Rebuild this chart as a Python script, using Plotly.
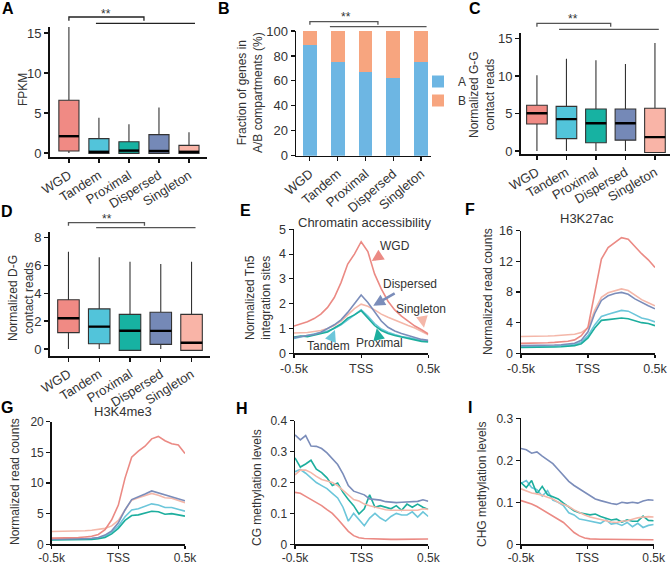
import plotly.graph_objects as go

W, H = 671, 564
FONT = "Liberation Sans, Arial, Helvetica, sans-serif"
INK = "#333333"

# ---------------- data ----------------
CATS = ["WGD", "Tandem", "Proximal", "Dispersed", "Singleton"]
POS = [0, 1, 2, 3, 4]

# Panel A: FPKM boxes
A_low = [0.0, -0.05, -0.05, -0.05, -0.05]
A_q1 = [0.25, -0.05, -0.05, -0.05, -0.05]
A_med = [2.1, 0.15, 0.3, 0.25, 0.15]
A_q3 = [6.6, 1.8, 1.4, 2.3, 0.95]
A_high = [15.9, 4.4, 3.6, 5.7, 2.6]

# Panel B: fraction in A/B compartments (%)
B_A = [88.5, 75.0, 67.0, 62.5, 75.0]
B_B = [11.5, 25.0, 33.0, 37.5, 25.0]

# Panel C: normalized G-G contact reads
C_low = [0.0, 0.0, 0.0, 0.0, -0.2]
C_q1 = [3.6, 1.65, 1.1, 1.45, -0.2]
C_med = [5.03, 4.25, 3.7, 3.7, 1.85]
C_q3 = [6.1, 5.95, 5.6, 5.6, 5.7]
C_high = [10.1, 12.3, 12.1, 11.6, 14.4]

# Panel D: normalized D-G contact reads
D_low = [0.0, 0.0, -0.1, 0.0, -0.1]
D_q1 = [1.17, 0.38, -0.1, 0.33, -0.1]
D_med = [2.2, 1.6, 1.31, 1.3, 0.45]
D_q3 = [3.53, 2.87, 2.48, 2.63, 2.48]
D_high = [6.97, 6.57, 6.25, 6.09, 6.25]

# Profiles around TSS (kb)
X21 = [-0.5, -0.45, -0.4, -0.35, -0.3, -0.25, -0.2, -0.15, -0.1, -0.05, 0.0,
       0.05, 0.1, 0.15, 0.2, 0.25, 0.3, 0.35, 0.4, 0.45, 0.5]
X26 = [-0.5, -0.46, -0.42, -0.38, -0.34, -0.3, -0.26, -0.22, -0.18, -0.14, -0.1, -0.06, -0.02,
       0.02, 0.06, 0.1, 0.14, 0.18, 0.22, 0.26, 0.3, 0.34, 0.38, 0.42, 0.46, 0.5]

E_WGD = [1.10, 1.17, 1.27, 1.40, 1.58, 1.85, 2.25, 2.85, 3.60, 4.00, 4.50, 4.10, 3.20, 2.60, 2.10, 1.75, 1.50, 1.30, 1.10, 0.95, 0.78]
E_Dispersed = [0.63, 0.66, 0.72, 0.76, 0.85, 1.00, 1.15, 1.35, 1.65, 2.00, 2.35, 2.05, 1.65, 1.30, 1.05, 0.90, 0.80, 0.72, 0.65, 0.56, 0.52]
E_Singleton = [0.82, 0.82, 0.84, 0.88, 0.92, 1.00, 1.12, 1.30, 1.55, 1.80, 1.98, 1.90, 1.75, 1.58, 1.45, 1.33, 1.22, 1.12, 1.02, 0.90, 0.75]
E_Tandem = [0.60, 0.66, 0.70, 0.76, 0.82, 0.90, 1.00, 1.15, 1.35, 1.55, 1.75, 1.50, 1.20, 0.98, 0.85, 0.76, 0.68, 0.64, 0.58, 0.52, 0.50]
E_Proximal = [0.65, 0.70, 0.67, 0.74, 0.80, 0.86, 1.02, 1.18, 1.42, 1.55, 1.72, 1.42, 1.12, 0.92, 0.80, 0.72, 0.66, 0.60, 0.54, 0.48, 0.46]

F_WGD = [1.30, 1.30, 1.33, 1.35, 1.38, 1.42, 1.48, 1.58, 1.75, 2.30, 3.40, 8.00, 12.30, 13.80, 14.50, 15.10, 14.90, 13.90, 13.00, 12.20, 11.20]
F_Singleton = [2.20, 2.20, 2.22, 2.24, 2.26, 2.30, 2.34, 2.40, 2.48, 2.70, 3.30, 5.60, 7.30, 7.90, 8.20, 8.40, 8.20, 7.60, 7.00, 6.60, 6.20]
F_Dispersed = [1.00, 1.00, 1.02, 1.04, 1.06, 1.08, 1.12, 1.18, 1.30, 1.70, 2.80, 5.20, 6.90, 7.50, 7.80, 7.95, 7.70, 7.10, 6.60, 6.20, 5.80]
F_Tandem = [0.90, 0.90, 0.92, 0.92, 0.94, 0.96, 1.00, 1.05, 1.15, 1.45, 2.30, 3.70, 4.80, 5.10, 5.40, 5.60, 5.50, 5.00, 4.60, 4.40, 4.10]
F_Proximal = [0.75, 0.75, 0.76, 0.78, 0.80, 0.82, 0.85, 0.90, 1.00, 1.25, 2.00, 3.30, 4.30, 4.40, 4.50, 4.60, 4.50, 4.20, 4.00, 3.90, 3.60]

G_WGD = [1.00, 1.00, 1.00, 1.05, 1.10, 1.20, 1.30, 1.60, 2.40, 4.00, 6.40, 10.80, 14.20, 15.20, 16.00, 17.20, 17.60, 16.90, 16.40, 16.20, 14.80]
G_Singleton = [2.10, 2.10, 2.12, 2.15, 2.18, 2.22, 2.28, 2.40, 2.60, 3.00, 3.90, 5.60, 7.20, 7.60, 8.00, 8.30, 8.00, 7.60, 7.50, 7.10, 6.80]
G_Dispersed = [0.85, 0.85, 0.86, 0.88, 0.90, 0.92, 0.98, 1.10, 1.50, 2.20, 3.50, 5.60, 7.30, 7.70, 8.20, 8.70, 8.40, 8.00, 7.80, 7.50, 7.10]
G_Tandem = [0.80, 0.80, 0.81, 0.82, 0.84, 0.86, 0.90, 1.00, 1.30, 2.00, 3.00, 4.50, 5.60, 5.80, 6.20, 6.60, 6.40, 6.00, 6.00, 5.70, 5.40]
G_Proximal = [0.70, 0.70, 0.71, 0.72, 0.74, 0.76, 0.80, 0.90, 1.10, 1.70, 2.60, 3.90, 4.70, 4.80, 5.10, 5.40, 5.30, 4.90, 5.00, 4.80, 4.60]

H_WGD = [0.168, 0.165, 0.155, 0.145, 0.135, 0.125, 0.112, 0.100, 0.082, 0.062, 0.042, 0.028, 0.021,
         0.019, 0.018, 0.017, 0.017, 0.016, 0.016, 0.016, 0.016, 0.017, 0.017, 0.017, 0.018, 0.017]
H_Dispersed = [0.354, 0.338, 0.352, 0.318, 0.317, 0.310, 0.296, 0.278, 0.258, 0.228, 0.190, 0.172, 0.166,
               0.160, 0.147, 0.145, 0.143, 0.138, 0.136, 0.135, 0.136, 0.137, 0.138, 0.139, 0.144, 0.139]
H_Proximal = [0.280, 0.250, 0.260, 0.272, 0.243, 0.232, 0.215, 0.190, 0.198, 0.168, 0.145, 0.125, 0.098,
              0.115, 0.160, 0.120, 0.125, 0.120, 0.115, 0.125, 0.110, 0.130, 0.120, 0.130, 0.120, 0.113]
H_Singleton = [0.225, 0.240, 0.240, 0.232, 0.220, 0.210, 0.205, 0.200, 0.190, 0.175, 0.160, 0.145, 0.140,
               0.130, 0.125, 0.120, 0.115, 0.112, 0.110, 0.110, 0.110, 0.110, 0.108, 0.110, 0.115, 0.113]
H_Tandem = [0.235, 0.242, 0.230, 0.215, 0.200, 0.190, 0.180, 0.165, 0.150, 0.120, 0.075, 0.100, 0.080,
            0.060, 0.085, 0.100, 0.085, 0.075, 0.090, 0.100, 0.095, 0.095, 0.105, 0.088, 0.105, 0.090]

I_WGD = [0.104, 0.100, 0.096, 0.090, 0.082, 0.075, 0.068, 0.060, 0.052, 0.040, 0.028, 0.020, 0.015,
         0.013, 0.012, 0.012, 0.012, 0.012, 0.011, 0.011, 0.011, 0.011, 0.011, 0.011, 0.011, 0.011]
I_Dispersed = [0.228, 0.225, 0.217, 0.220, 0.210, 0.202, 0.192, 0.178, 0.163, 0.150, 0.140, 0.132, 0.125,
               0.117, 0.108, 0.104, 0.100, 0.097, 0.095, 0.100, 0.098, 0.100, 0.098, 0.103, 0.106, 0.105]
I_Proximal = [0.147, 0.135, 0.152, 0.120, 0.138, 0.118, 0.113, 0.108, 0.098, 0.088, 0.080, 0.075, 0.072,
              0.070, 0.072, 0.066, 0.062, 0.058, 0.060, 0.053, 0.058, 0.055, 0.055, 0.067, 0.057, 0.056]
I_Tandem = [0.145, 0.152, 0.135, 0.130, 0.115, 0.128, 0.105, 0.100, 0.092, 0.075, 0.070, 0.060, 0.058,
            0.055, 0.052, 0.050, 0.058, 0.048, 0.050, 0.045, 0.052, 0.042, 0.050, 0.040, 0.045, 0.047]
I_Singleton = [0.132, 0.127, 0.122, 0.120, 0.117, 0.112, 0.108, 0.100, 0.095, 0.090, 0.082, 0.075, 0.070,
               0.065, 0.062, 0.058, 0.055, 0.053, 0.052, 0.055, 0.056, 0.060, 0.063, 0.065, 0.066, 0.065]

BOX_COL = ["#F08A84", "#52C4DA", "#17B2A2", "#7589B7", "#F9B4A7"]
LINE_COL = {"WGD": "#EB8A84", "Tandem": "#6CC6DA", "Proximal": "#1DAE9E",
            "Dispersed": "#7B8DBA", "Singleton": "#F4B7A9"}
B_COL = {"A": "#6DB6E3", "B": "#F7A57F"}


def px(x):
    return x / W


def py(y):
    return 1 - y / H


fig = go.Figure()
layout = dict(width=W, height=H, margin=dict(l=0, r=0, t=0, b=0, autoexpand=False),
              paper_bgcolor="white", plot_bgcolor="white",
              font=dict(family=FONT, size=12, color=INK), showlegend=True,
              barmode="stack")
annotations = []
shapes = []

# panel geometry: (x0, x1, ytop, ybot) in pixels
GEOM = {
    "A": (50, 207, 27, 157), "B": (296, 431, 31, 155.7), "C": (521, 670, 33.3, 154),
    "D": (50, 210, 231.7, 355.7), "E": (294, 428.3, 229.3, 353.3), "F": (521, 655, 230.7, 353.3),
    "G": (51.7, 185, 421.7, 544.3), "H": (295, 428.3, 420.7, 544.3), "I": (521, 653.7, 418.3, 544.3),
}
ORDER = ["A", "B", "C", "D", "E", "F", "G", "H", "I"]
AX = {k: ("" if i == 0 else str(i + 1)) for i, k in enumerate(ORDER)}


def axes(key, xrange, yrange, ytick, xtickvals, xticktext, tickangle=0, lw=2.0, tfs=13, tl=4, so=0):
    n = AX[key]
    x0, x1, yt, yb = GEOM[key]
    layout["xaxis" + n] = dict(domain=[px(x0), px(x1)], range=xrange, anchor="y" + n,
                               showline=True, linecolor="#111", linewidth=lw, ticks="outside",
                               ticklen=tl, tickwidth=1.2, tickcolor="#111", showgrid=False,
                               zeroline=False, tickvals=xtickvals, ticktext=xticktext,
                               tickangle=tickangle, tickfont=dict(size=tfs, color=INK, family=FONT),
                               ticklabelstandoff=so, fixedrange=True)
    layout["yaxis" + n] = dict(domain=[py(yb), py(yt)], range=yrange, anchor="x" + n,
                               showline=True, linecolor="#111", linewidth=lw, ticks="outside",
                               ticklen=4, tickwidth=1.2, tickcolor="#111", showgrid=False,
                               zeroline=False, tickvals=ytick,
                               tickfont=dict(size=tfs, color=INK, family=FONT), fixedrange=True)


def boxes(key, low, q1, med, q3, high, width):
    n = AX[key]
    for i in POS:
        fig.add_trace(go.Box(x=[POS[i]], q1=[q1[i]], median=[med[i]], q3=[q3[i]],
                             lowerfence=[low[i]], upperfence=[high[i]], width=width,
                             fillcolor=BOX_COL[i], line=dict(color="#333", width=1.1),
                             whiskerwidth=0, boxpoints=False, showlegend=False,
                             hoverinfo="skip", xaxis="x" + n, yaxis="y" + n))
        fig.add_trace(go.Scatter(x=[POS[i] - width / 2, POS[i] + width / 2], y=[med[i], med[i]],
                                 mode="lines", line=dict(color="#000", width=2.4),
                                 showlegend=False, hoverinfo="skip", xaxis="x" + n, yaxis="y" + n))


def bracket(key, i0, i1, top, drop, j0, j1, line_y, star_x, star_y, color):
    xa = "x" + AX[key]
    shapes.append(dict(type="path", xref=xa, yref="paper",
                       path=f"M {i0},{py(drop)} L {i0},{py(top)} L {i1},{py(top)} L {i1},{py(drop)}",
                       line=dict(color=color, width=1.3)))
    shapes.append(dict(type="line", xref=xa, yref="paper", x0=j0, x1=j1, y0=py(line_y), y1=py(line_y),
                       line=dict(color=color, width=1.3)))
    annotations.append(dict(xref=xa, yref="paper", x=star_x, y=py(star_y), text="**",
                            showarrow=False, font=dict(size=12, color=INK), xanchor="center",
                            yanchor="middle"))


def ytitle(x, y, text, size=12):
    annotations.append(dict(xref="paper", yref="paper", x=px(x), y=py(y), text=text, textangle=-90,
                            showarrow=False, font=dict(size=size, color=INK), xanchor="center",
                            yanchor="middle"))


def label(x, y, text, size=15, bold=True, color="#000"):
    annotations.append(dict(xref="paper", yref="paper", x=px(x), y=py(y),
                            text=f"<b>{text}</b>" if bold else text, showarrow=False,
                            font=dict(size=size, color=color), xanchor="center", yanchor="middle"))


# ---------- A ----------
axes("A", [-0.63, 4.6], [-0.5, 15.75], [0, 5, 10, 15], POS, CATS, tickangle=-32)
boxes("A", A_low, A_q1, A_med, A_q3, A_high, 0.67)
bracket("A", 0, 2.5, 17, 20.7, 0.9, 4.2, 23.3, 1.25, 14, "#222")
ytitle(23, 90, "FPKM")

# ---------- B ----------
axes("B", [-0.5, 4.36], [0, 100], [0, 20, 40, 60, 80, 100], POS, CATS, tickangle=-40, lw=1.5)
fig.add_trace(go.Bar(x=POS, y=B_A, name="A", marker=dict(color=B_COL["A"], line=dict(width=0)),
                     width=0.5, xaxis="x2", yaxis="y2", hoverinfo="skip"))
fig.add_trace(go.Bar(x=POS, y=B_B, name="B", marker=dict(color=B_COL["B"], line=dict(width=0)),
                     width=0.5, xaxis="x2", yaxis="y2", hoverinfo="skip"))
bracket("B", 0, 2.45, 21.7, 24.7, 0.72, 4.2, 26.7, 1.3, 17, "#555")
ytitle(250, 93, "Fraction of genes in<br>A/B compartments (%)")
layout["legend"] = dict(x=px(418), y=py(67), xanchor="left", yanchor="top", traceorder="normal",
                        font=dict(size=12, color=INK), bgcolor="rgba(0,0,0,0)", tracegroupgap=0)

# ---------- C ----------
axes("C", [-0.54, 4.51], [-0.4, 15.7], [0, 5, 10, 15], POS, CATS, tickangle=-30)
boxes("C", C_low, C_q1, C_med, C_q3, C_high, 0.7)
bracket("C", 0, 2.5, 23.3, 26.7, 0.75, 4.13, 29.3, 1.22, 19, "#555")
ytitle(482, 95, "Normalized G-G<br>contact reads")

# ---------- D ----------
axes("D", [-0.6, 4.6], [-0.48, 8.4], [0, 2, 4, 6, 8], POS, CATS, tickangle=-32)
boxes("D", D_low, D_q1, D_med, D_q3, D_high, 0.7)
bracket("D", 0, 2.47, 222.7, 225.7, 0.9, 4.13, 227.7, 1.26, 219, "#555")
ytitle(21, 298, "Normalized D-G<br>contact reads")

# ---------- profiles ----------
TSS_VALS = [-0.5, 0, 0.5]
TSS_TEXT = ["-0.5k", "TSS", "0.5k"]


def profile(key, xs, series, yrange, ytick, so=0, tfs=12.5):
    n = AX[key]
    axes(key, [-0.5, 0.5], yrange, ytick, TSS_VALS, TSS_TEXT, lw=1.5, tfs=tfs, tl=3, so=so)
    for name in ["Tandem", "Proximal", "Singleton", "Dispersed", "WGD"]:
        fig.add_trace(go.Scatter(x=xs, y=series[name], mode="lines",
                                 line=dict(color=LINE_COL[name], width=1.6),
                                 showlegend=False, hoverinfo="skip", xaxis="x" + n, yaxis="y" + n,
                                 cliponaxis=False))


profile("E", X21, {"WGD": E_WGD, "Dispersed": E_Dispersed, "Singleton": E_Singleton,
                   "Tandem": E_Tandem, "Proximal": E_Proximal}, [0, 5], [0, 1, 2, 3, 4, 5])
profile("F", X21, {"WGD": F_WGD, "Dispersed": F_Dispersed, "Singleton": F_Singleton,
                   "Tandem": F_Tandem, "Proximal": F_Proximal}, [0, 16], [0, 4, 8, 12, 16])
profile("G", X21, {"WGD": G_WGD, "Dispersed": G_Dispersed, "Singleton": G_Singleton,
                   "Tandem": G_Tandem, "Proximal": G_Proximal}, [0, 20], [0, 5, 10, 15, 20],
        so=-1, tfs=12)
profile("H", X26, {"WGD": H_WGD, "Dispersed": H_Dispersed, "Singleton": H_Singleton,
                   "Tandem": H_Tandem, "Proximal": H_Proximal}, [0, 0.4], [0, 0.1, 0.2, 0.3, 0.4],
        so=-1, tfs=12)
profile("I", X26, {"WGD": I_WGD, "Dispersed": I_Dispersed, "Singleton": I_Singleton,
                   "Tandem": I_Tandem, "Proximal": I_Proximal}, [0, 0.3], [0, 0.1, 0.2, 0.3],
        so=-1, tfs=12)

ytitle(258, 298, "Normalized Tn5<br>integration sites")
ytitle(488, 292, "Normalized read counts")
ytitle(15, 482, "Normalized read counts")
ytitle(257, 488, "CG methylation levels")
ytitle(482, 485, "CHG methylation levels")

# panel titles
label(364, 223, "Chromatin accessibility", size=13, bold=False, color=INK)
label(587, 218, "H3K27ac", size=13, bold=False, color=INK)
label(123, 411, "H3K4me3", size=13, bold=False, color=INK)

# arrow labels in E
E_LABELS = [("WGD", 0.079, 3.72, 0.252, 4.33), ("Dispersed", 0.09, 1.92, 0.366, 2.78),
            ("Singleton", 0.468, 1.03, 0.443, 1.79), ("Tandem", -0.195, 0.94, -0.245, 0.29),
            ("Proximal", 0.116, 1.01, 0.14, 0.40)]
for name, tx, ty, lx, ly in E_LABELS:
    annotations.append(dict(xref="x5", yref="y5", axref="x5", ayref="y5", x=tx, y=ty, ax=lx, ay=ly,
                            text=name, showarrow=True, arrowhead=2, arrowsize=0.9, arrowwidth=2.6,
                            arrowcolor=LINE_COL[name], standoff=0, startstandoff=1,
                            font=dict(size=12, color=INK)))

# panel letters
for t, x, y in [("A", 7.5, 9), ("B", 224, 9), ("C", 475, 9), ("D", 7, 211.7), ("E", 245, 210),
                ("F", 470, 209), ("G", 7, 407), ("H", 242, 408), ("I", 470, 407)]:
    label(x, y, t, size=16)

layout["annotations"] = annotations
layout["shapes"] = shapes
fig.update_layout(**layout)
fig.write_html("out.html", config={"displayModeBar": False, "staticPlot": True},
               post_script="document.body.style.margin='0';document.body.style.padding='0';"
                           "document.body.style.overflow='hidden';")
